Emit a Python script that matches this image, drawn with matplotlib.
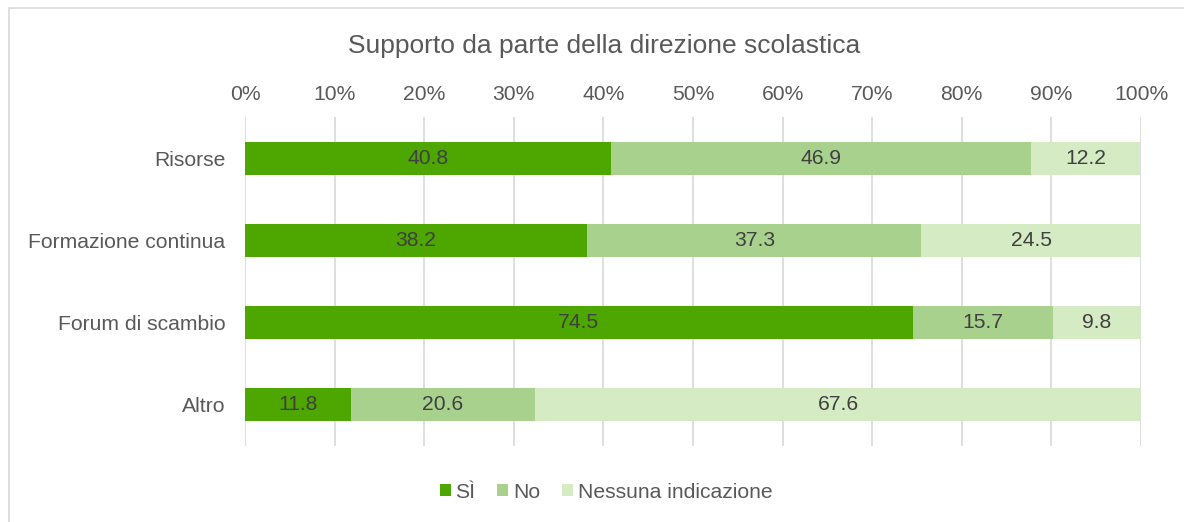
import numpy as np
import matplotlib.pyplot as plt
from matplotlib.patches import Rectangle

plt.rcParams['font.family'] = ['Liberation Sans', 'DejaVu Sans']

# data
categories = ['Risorse', 'Formazione continua', 'Forum di scambio', 'Altro']
si_vals = [40.8, 38.2, 74.5, 11.8]
no_vals = [46.9, 37.3, 15.7, 20.6]
nessuna_vals = [12.2, 24.5, 9.8, 67.6]
series_names = ['SÌ', 'No', 'Nessuna indicazione']
colors = ['#4EA600', '#A9D18E', '#D4EBC4']
title = 'Supporto da parte della direzione scolastica'

fig = plt.figure(figsize=(11.84, 5.22), dpi=100)
ax = fig.add_axes([245/1184, 1 - 446/522, (1141 - 245)/1184, (446 - 117)/522])

# chart border (only left and top visible in reference)
fig.patches.append(Rectangle((9/1184, -0.1), 1.2, 1 - 8/522 + 0.1,
                             transform=fig.transFigure, fill=False,
                             edgecolor='#D9D9D9', linewidth=1.2))

y = np.arange(len(categories))
left = np.zeros(len(categories))
for vals, name, col in zip([si_vals, no_vals, nessuna_vals], series_names, colors):
    vals = np.array(vals)
    ax.barh(y, vals, left=left, height=0.4, color=col, label=name, zorder=3)
    for yi, l, v in zip(y, left, vals):
        ax.text(l + v / 2, yi, f'{v:.1f}', ha='center', va='center',
                fontsize=15.2, color='#404040', zorder=4)
    left += vals

ax.set_xlim(0, 100)
ax.set_ylim(len(categories) - 0.5, -0.5)
ax.set_yticks(y)
ax.set_yticklabels(categories)
ax.set_xticks(np.arange(0, 101, 10))
ax.set_xticklabels([f'{t}%' for t in range(0, 101, 10)])
ax.xaxis.tick_top()
ax.tick_params(axis='both', length=0, labelsize=15.2, labelcolor='#595959')
ax.tick_params(axis='x', pad=9)
ax.tick_params(axis='y', pad=14)
ax.grid(axis='x', color='#D9D9D9', linewidth=1.2, zorder=0)
for s in ax.spines.values():
    s.set_visible(False)

fig.text(604/1184, 1 - 46/522, title, ha='center', va='center',
         fontsize=19, color='#595959')

ax.legend(loc='center', bbox_to_anchor=(606/1184, 1 - 492/522),
          bbox_transform=fig.transFigure, ncol=3, frameon=False,
          fontsize=15.2, labelcolor='#595959', handlelength=0.52,
          handleheight=0.52, handletextpad=0.22, columnspacing=1.05)

fig.savefig('out.png', dpi=100)
